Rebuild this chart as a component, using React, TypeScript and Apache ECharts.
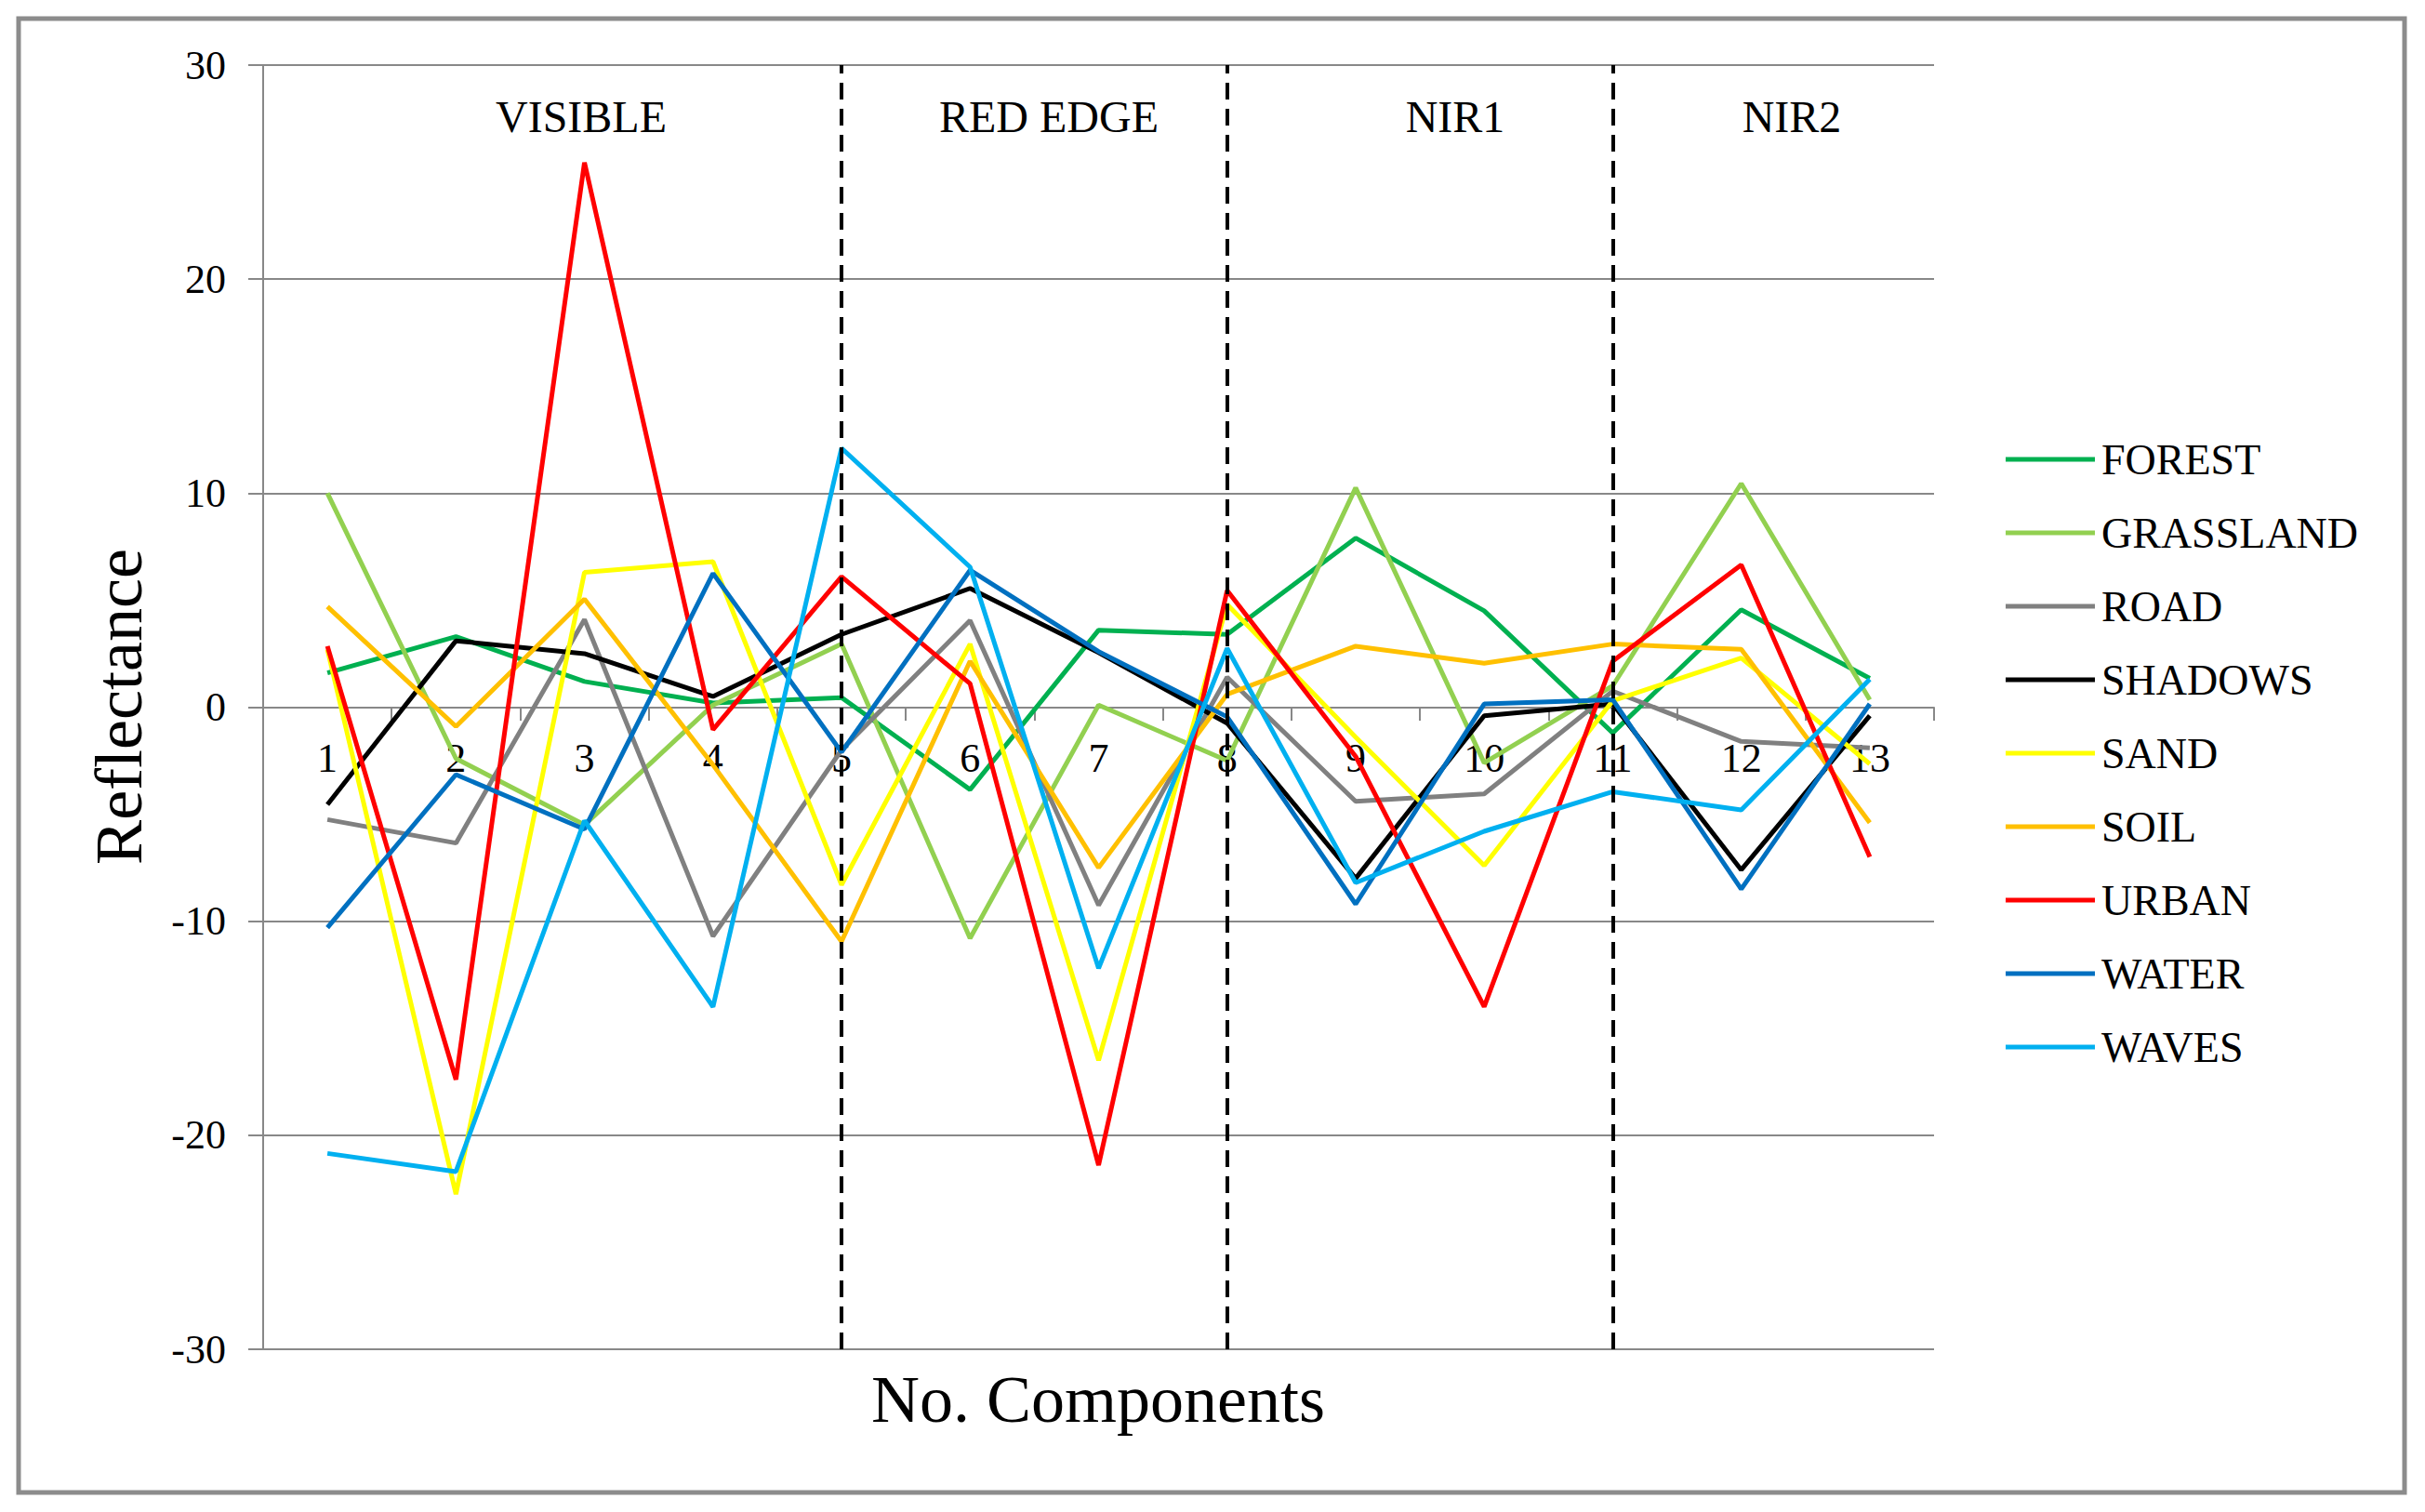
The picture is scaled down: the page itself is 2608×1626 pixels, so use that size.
import React, { useEffect, useRef } from "react";
import * as echarts from "echarts";

const categories = ["1", "2", "3", "4", "5", "6", "7", "8", "9", "10", "11", "12", "13"];
const yTicks = { min: -30, max: 30, interval: 10 };

const forest = [1.6, 3.3, 1.2, 0.2, 0.45, -3.85, 3.6, 3.4, 7.9, 4.5, -1.2, 4.55, 1.35];
const grassland = [10.0, -2.4, -5.5, 0.1, 2.95, -10.8, 0.1, -2.5, 10.25, -2.6, 1.0, 10.45, 0.35];
const road = [-5.25, -6.35, 4.1, -10.7, -2.0, 4.05, -9.25, 1.4, -4.4, -4.05, 0.75, -1.6, -1.9];
const shadows = [-4.55, 3.1, 2.5, 0.5, 3.4, 5.55, 2.55, -0.75, -8.0, -0.4, 0.15, -7.6, -0.4];
const sand = [2.7, -22.75, 6.3, 6.8, -8.3, 2.95, -16.5, 4.8, -1.4, -7.4, 0.3, 2.3, -2.65];
const soil = [4.7, -0.9, 5.05, -2.7, -10.95, 2.15, -7.5, 0.6, 2.85, 2.05, 2.95, 2.7, -5.4];
const urban = [2.85, -17.4, 25.45, -1.05, 6.1, 1.1, -21.4, 5.45, -2.3, -14.0, 2.15, 6.65, -7.0];
const water = [-10.3, -3.15, -5.7, 6.25, -2.1, 6.4, 2.6, -0.45, -9.2, 0.15, 0.35, -8.5, 0.15];
const waves = [-20.85, -21.7, -5.3, -14.0, 12.1, 6.55, -12.2, 2.75, -8.2, -5.8, -3.95, -4.8, 1.3];

const seriesNames = ["FOREST", "GRASSLAND", "ROAD", "SHADOWS", "SAND", "SOIL", "URBAN", "WATER", "WAVES"];
const seriesValues = [forest, grassland, road, shadows, sand, soil, urban, water, waves];
const seriesColors = ["#00B050", "#92D050", "#808080", "#000000", "#FFFF00", "#FFC000", "#FF0000", "#0070C0", "#00B0F0"];

const dividerCategories = ["5", "8", "11"];
const sectionLabels = ["VISIBLE", "RED EDGE", "NIR1", "NIR2"];
const sectionLabelX = [625, 1128, 1565, 1927];

const FONT = "'Liberation Serif', 'Times New Roman', serif";

const GRID_TOP = 70;
const GRID_BOTTOM_PX = 1451;
const ZERO_PX = 761;

export default function App() {
  const ref = useRef<HTMLDivElement>(null);

  useEffect(() => {
    document.body.style.margin = "0";
    const chart = echarts.init(ref.current as HTMLDivElement, undefined, { renderer: "svg" });

    const series: any[] = seriesNames.map((name, i) => ({
      name,
      type: "line",
      data: seriesValues[i],
      symbol: "none",
      lineStyle: { color: seriesColors[i], width: 5 },
      itemStyle: { color: seriesColors[i] },
      z: 3 + i,
    }));
    series[0].markLine = {
      silent: true,
      symbol: ["none", "none"],
      label: { show: false },
      lineStyle: { color: "#000", width: 4, type: [18, 10] },
      data: dividerCategories.map((c) => ({ xAxis: c })),
      z: 20,
    };

    const option: any = {
      animation: false,
      backgroundColor: "#fff",
      grid: { left: 283, right: 528, top: GRID_TOP, bottom: 1626 - GRID_BOTTOM_PX, containLabel: false },
      xAxis: {
        type: "category",
        data: categories,
        boundaryGap: true,
        position: "bottom",
        offset: -(GRID_BOTTOM_PX - ZERO_PX),
        axisLine: { onZero: false, lineStyle: { color: "#888", width: 2 } },
        axisTick: { show: true, alignWithLabel: false, length: 14, lineStyle: { color: "#888", width: 2 } },
        axisLabel: { color: "#000", fontFamily: FONT, fontSize: 44, margin: 32 },
        splitLine: { show: false },
      },
      yAxis: {
        type: "value",
        min: yTicks.min,
        max: yTicks.max,
        interval: yTicks.interval,
        axisLine: { show: true, lineStyle: { color: "#888", width: 2 } },
        axisTick: { show: true, length: 16, lineStyle: { color: "#888", width: 2 } },
        axisLabel: { color: "#000", fontFamily: FONT, fontSize: 44, margin: 40 },
        splitLine: { show: true, lineStyle: { color: "#888", width: 2 } },
      },
      legend: {
        orient: "vertical",
        left: 2152,
        top: 464,
        icon: "rect",
        itemWidth: 96,
        itemHeight: 5,
        itemGap: 29,
        textStyle: { fontFamily: FONT, fontSize: 46, color: "#000", lineHeight: 50, padding: [0, 0, 0, 2] },
        data: seriesNames,
      },
      graphic: [
        {
          type: "rect",
          shape: { x: 20, y: 20, width: 2566, height: 1585 },
          style: { fill: "none", stroke: "#8c8c8c", lineWidth: 5 },
          z: 0,
        },
        ...sectionLabels.map((t, i) => ({
          type: "text",
          x: sectionLabelX[i],
          y: 125,
          style: { text: t, fontFamily: FONT, fontSize: 48, fill: "#000", textAlign: "center", textVerticalAlign: "middle" },
          z: 10,
        })),
        {
          type: "text",
          x: 1181,
          y: 1505,
          style: { text: "No. Components", fontFamily: FONT, fontSize: 72, fill: "#000", textAlign: "center", textVerticalAlign: "middle" },
          z: 10,
        },
        {
          type: "text",
          x: 128,
          y: 760,
          rotation: Math.PI / 2,
          style: { text: "Reflectance", fontFamily: FONT, fontSize: 72, fill: "#000", textAlign: "center", textVerticalAlign: "middle" },
          z: 10,
        },
      ],
      series,
    };

    chart.setOption(option);
    return () => chart.dispose();
  }, []);

  return <div ref={ref} style={{ width: 2608, height: 1626 }} />;
}
